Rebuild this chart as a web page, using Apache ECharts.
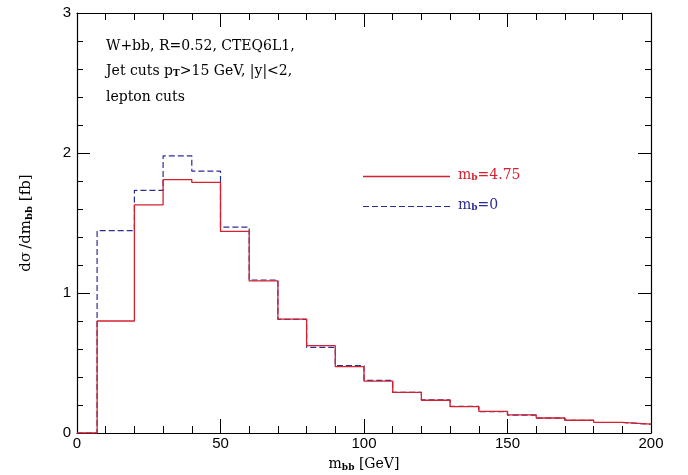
<!DOCTYPE html>
<html>
<head>
<meta charset="utf-8">
<script src="https://cdn.jsdelivr.net/npm/echarts@6/dist/echarts.min.js"></script>
<style>html,body{margin:0;padding:0;background:#fff;}#c{width:688px;height:475px;}</style>
</head>
<body>
<div id="c"></div>
<script>
// Bin edges (GeV) of the m_bb histogram
const binEdges = [7, 20, 30, 40, 50, 60, 70, 80, 90, 100, 110, 120, 130, 140, 150, 160, 170, 180, 190, 200];
// dσ/dm_bb [fb] per bin, m_b = 4.75
const redValues = [0.80, 1.63, 1.81, 1.79, 1.44, 1.086, 0.814, 0.624, 0.474, 0.371, 0.290, 0.234, 0.188, 0.155, 0.129, 0.107, 0.091, 0.076, 0.064];
// dσ/dm_bb [fb] per bin, m_b = 0
const blueValues = [1.445, 1.733, 1.98, 1.87, 1.47, 1.093, 0.812, 0.612, 0.481, 0.376, 0.290, 0.236, 0.190, 0.152, 0.128, 0.106, 0.090, 0.075, 0.063];
const xTicks = [0, 50, 100, 150, 200];
const yTicks = [0, 1, 2, 3];
const legendRed = 'm_b=4.75';
const legendBlue = 'm_b=0';

function histPoints(edges, vals) {
  const pts = [[0, 0], [edges[0], 0]];
  for (let i = 0; i < vals.length; i++) pts.push([edges[i], vals[i]]);
  pts.push([edges[edges.length - 1], vals[vals.length - 1]]);
  return pts;
}

const RED = '#d42230';
const BLUE = '#2c2c96';
const serif = 'DejaVu Serif';
const sans = 'Liberation Sans';

function axisX(pos, showLabel) {
  return {
    type: 'value', position: pos, min: xTicks[0], max: xTicks[xTicks.length - 1], interval: 50,
    axisLine: { show: true, onZero: false, lineStyle: { color: '#000', width: 1.2 } },
    axisTick: { show: true, inside: true, length: 14, lineStyle: { color: '#000', width: 1 } },
    minorTick: { show: true, splitNumber: 5, length: 7, lineStyle: { color: '#000', width: 1 } },
    splitLine: { show: false },
    axisLabel: { show: showLabel, color: '#000', fontFamily: sans, fontSize: 15, margin: 3 }
  };
}
function axisY(pos, showLabel) {
  return {
    type: 'value', position: pos, min: yTicks[0], max: yTicks[yTicks.length - 1], interval: 1,
    axisLine: { show: true, onZero: false, lineStyle: { color: '#000', width: 1.2 } },
    axisTick: { show: true, inside: true, length: 13, lineStyle: { color: '#000', width: 1 } },
    minorTick: { show: true, splitNumber: 5, length: 6, lineStyle: { color: '#000', width: 1 } },
    splitLine: { show: false },
    axisLabel: { show: showLabel, color: '#000', fontFamily: sans, fontSize: 15, margin: 6 }
  };
}

const xb = axisX('bottom', true);
xb.name = '{m|m}{s|bb} {m|[GeV]}';
xb.nameLocation = 'middle';
xb.nameGap = 24;
xb.nameTextStyle = { fontFamily: serif, fontSize: 14, color: '#000',
  rich: { m: { fontFamily: serif, fontSize: 14, color: '#000' },
          s: { fontFamily: serif, fontSize: 9, fontWeight: 'bold', color: '#000', padding: [6, 0, 0, 0] } } };
const yl = axisY('left', true);
yl.name = '{m|d\u03c3\u2009/dm}{s|bb} {m|[fb]}';
yl.nameLocation = 'middle';
yl.nameGap = 43;
yl.nameRotate = 90;
yl.nameTextStyle = { fontFamily: serif, fontSize: 15, color: '#000',
  rich: { m: { fontFamily: serif, fontSize: 15, color: '#000' },
          s: { fontFamily: serif, fontSize: 10, fontWeight: 'bold', color: '#000', padding: [6, 0, 0, 0] } } };

const subRich = (color) => ({
  m: { fontFamily: serif, fontSize: 14, color: color },
  s: { fontFamily: serif, fontSize: 9, fontWeight: 'bold', color: color, padding: [6, 0, 0, 0] }
});
function richLabel(str) {
  // "m_b=4.75" -> "{m|m}{s|b}{m|=4.75}"
  const [a, rest] = str.split('_');
  return '{m|' + a + '}{s|' + rest[0] + '}{m|' + rest.slice(1) + '}';
}

const chart = echarts.init(document.getElementById('c'), null, { renderer: 'canvas' });
chart.setOption({
  animation: false,
  backgroundColor: '#fff',
  grid: { left: 77, right: 37, top: 13, bottom: 42, containLabel: false, outerBoundsMode: 'none' },
  xAxis: [xb, axisX('top', false)],
  yAxis: [yl, axisY('right', false)],
  series: [
    { type: 'line', step: 'end', symbol: 'none', data: histPoints(binEdges, blueValues),
      lineStyle: { color: BLUE, width: 1.2, type: [6, 3] }, z: 2 },
    { type: 'line', step: 'end', symbol: 'none', data: histPoints(binEdges, redValues),
      lineStyle: { color: RED, width: 1.3 }, z: 3 }
  ],
  graphic: [
    { type: 'text', left: 106, top: 39, style: { text: 'W+bb, R=0.52, CTEQ6L1,', fontFamily: serif, fontSize: 14, fill: '#000' } },
    { type: 'text', left: 106, top: 64, style: { text: '{m|Jet cuts p}{s|T}{m|>15 GeV, |y|<2,}', fontFamily: serif, fontSize: 14, fill: '#000', rich: subRich('#000') } },
    { type: 'text', left: 106, top: 90, style: { text: 'lepton cuts', fontFamily: serif, fontSize: 14, fill: '#000' } },
    { type: 'line', shape: { x1: 363, y1: 176.5, x2: 450, y2: 176.5 }, style: { stroke: RED, lineWidth: 1.3 } },
    { type: 'text', left: 458, top: 168, style: { text: richLabel(legendRed), rich: subRich(RED), fill: RED } },
    { type: 'line', shape: { x1: 363, y1: 206.5, x2: 450, y2: 206.5 }, style: { stroke: BLUE, lineWidth: 1.2, lineDash: [6, 3] } },
    { type: 'text', left: 458, top: 198, style: { text: richLabel(legendBlue), rich: subRich(BLUE), fill: BLUE } }
  ]
});
</script>
</body>
</html>
